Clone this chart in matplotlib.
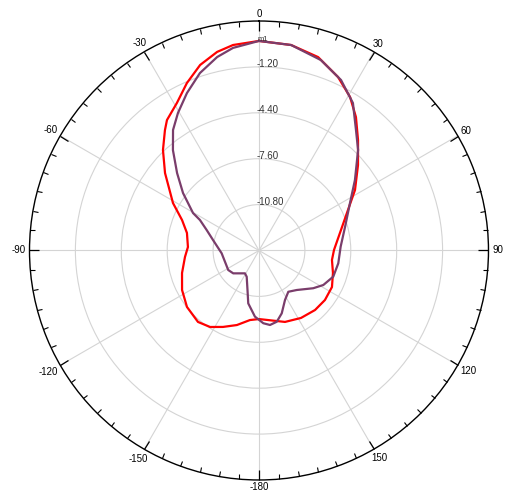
import numpy as np
import matplotlib.pyplot as plt
from matplotlib import rcParams
rcParams['font.family'] = ['Liberation Sans', 'DejaVu Sans']
rcParams['font.size'] = 7

# angle (deg, clockwise from top) and gain (dB)
red_deg = [0, 8.9, 17.0, 24.5, 30.7, 36.0, 41.9, 49.2, 57.8, 65.5, 76.0, 89.6,
           97.4, 106.9, 116.6, 126.9, 136.7, 148.1, 160.0, 172.6, 180.0, 187.4,
           196.5, 205.2, 212.6, 220.5, 231.9, 242.8, 253.7, 265.0, 272.8, 283.7,
           291.6, 298.9, 309.5, 316.3, 322.0, 324.8, 330.9, 336.7, 342.4, 348.1,
           352.8, 360]
red_db = [0.61, 0.50, 0.10, -0.71, -1.56, -2.50, -3.66, -4.88, -6.09, -7.18, -8.11, -8.77,
          -8.87, -8.61, -8.31, -8.25, -8.30, -8.46, -8.70, -9.11, -9.22, -9.11,
          -8.58, -8.11, -7.67, -7.45, -7.62, -7.97, -8.41, -8.82, -9.04, -8.83,
          -8.23, -7.15, -5.51, -4.31, -3.35, -2.87, -2.23, -1.29, -0.43, 0.15,
          0.44, 0.61]

purple_deg = [0, 8.9, 18.0, 25.7, 32.5, 38.8, 44.6, 53.7, 62.4, 74.7, 87.3, 99.2,
              109.4, 118.2, 124.8, 136.3, 144.6, 152.3, 160.1, 166.0, 171.6, 176.6,
              183.5, 191.5, 196.2, 205.1, 211.6, 228.4, 237.6, 265.7, 282.9, 291.4,
              297.3, 299.6, 307.1, 313.4, 319.4, 324.5, 329.5, 335.4, 341.6, 347.8,
              352.7, 360]
purple_db = [0.61, 0.50, -0.04, -0.81, -1.81, -3.21, -4.16, -5.70, -6.84, -7.78, -8.30, -8.40,
             -8.51, -8.91, -9.39, -10.19, -10.47, -10.10, -9.34, -8.88, -8.75, -8.92,
             -9.38, -10.24, -11.13, -11.98, -12.13, -11.60, -11.46, -11.39, -10.71, -10.08,
             -9.37, -8.71, -7.36, -6.14, -4.78, -3.68, -2.87, -1.93, -0.96, -0.20,
             0.24, 0.61]

ring_vals = [-10.8, -7.6, -4.4, -1.2]
ring_labels = ['-10.80', '-7.60', '-4.40', '-1.20']
theta_ticks = [0, 30, 60, 90, 120, 150, 180, 210, 240, 270, 300, 330]
theta_labels = ['0', '30', '60', '90', '120', '150', '-180', '-150', '-120', '-90', '-60', '-30']

fig = plt.figure(figsize=(5.05, 4.93), dpi=100)
ax = fig.add_axes([0.0584, 0.0264, 0.9089, 0.931], projection='polar')
ax.set_theta_zero_location('N')
ax.set_theta_direction(-1)
ax.set_ylim(-14, 2)

ax.plot(np.radians(red_deg), red_db, color='#ff0000', linewidth=1.6, zorder=3)
ax.plot(np.radians(purple_deg), purple_db, color='#7a3d6b', linewidth=1.6, zorder=4)

ax.set_rgrids(ring_vals, labels=[])
ax.set_thetagrids(theta_ticks, labels=[])
ax.set_xticks(np.radians(np.arange(0, 360, 5)), minor=True)
# outer rim ticks only
ax.tick_params(axis='x', which='both', bottom=False, top=True, direction='in', colors='black')
ax.tick_params(axis='x', which='major', length=7, width=0.9)
ax.tick_params(axis='x', which='minor', length=3.6, width=0.8)
ax.grid(True, color='#d4d4d4', linewidth=0.8)
ax.spines['polar'].set_color('black')
ax.spines['polar'].set_linewidth(1.0)

# angle labels outside the rim
for deg, lab in zip(theta_ticks, theta_labels):
    s, c = np.sin(np.radians(deg)), np.cos(np.radians(deg))
    half_w = (sum(0.333 if ch == '-' else 0.556 for ch in lab) * 7) / 2
    half_h = 0.716 * 7 / 2
    d = 2.6 + half_w * abs(s) + half_h * abs(c)
    ax.annotate(lab, xy=(np.radians(deg), 2), xytext=(d * s, d * c),
                textcoords='offset points', ha='center', va='center',
                fontsize=7, color='black', annotation_clip=False)

for val, lab in zip(ring_vals, ring_labels):
    ax.annotate(lab, xy=(0, val), xytext=(-1.5, 0), textcoords='offset points',
                ha='left', va='baseline', fontsize=7, color='#333333', zorder=5)

# marker at the peak
ax.annotate('m1', xy=(0, red_db[0]), xytext=(2.5, 1), textcoords='offset points',
            ha='center', va='center', fontsize=5.5, color='#333333', zorder=5)

fig.savefig('out.png', dpi=100, facecolor='white')
